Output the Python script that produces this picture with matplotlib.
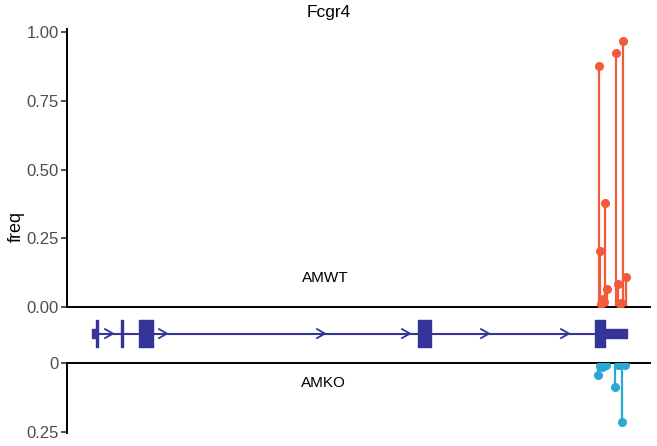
import matplotlib
matplotlib.use('Agg')
import matplotlib.pyplot as plt
import numpy as np

plt.rcParams['font.family'] = ['Liberation Sans', 'DejaVu Sans']

# 颜色
wt_color = '#F15A3A'
ko_color = '#2AA8D4'
gene_color = '#343499'

gene_name = 'Fcgr4'
region = (0, 14575)  # 相对基因组坐标 (bp)

# AMWT 位点频率
wt_pos = [13308, 13325, 13350, 13388, 13413, 13450, 13508, 13725, 13768, 13813, 13850, 13908, 13975]
wt_freq = [0.876, 0.205, 0.012, 0.030, 0.020, 0.377, 0.065, 0.922, 0.082, 0.012, 0.015, 0.968, 0.108]

# AMKO 位点频率
ko_pos = [13283, 13325, 13375, 13425, 13475, 13700, 13763, 13808, 13883, 13950]
ko_freq = [0.044, 0.012, 0.015, 0.012, 0.008, 0.086, 0.006, 0.006, 0.213, 0.006]

# 基因结构: 外显子 (start, end) 及 UTR
cds_exons = [(725, 775), (1360, 1400), (1800, 2150), (8775, 9100), (13200, 13450)]
utr_exons = [(625, 725), (13450, 14000)]
intron_span = (625, 14000)
arrow_pos = [1150, 2500, 6450, 8575, 10550, 12550]

top_ticks = [0.0, 0.25, 0.5, 0.75, 1.0]
top_labels = ['0.00', '0.25', '0.50', '0.75', '1.00']
bot_ticks = [0.0, 0.25]
bot_labels = ['0', '0.25']

W, H = 657, 446
fig = plt.figure(figsize=(W / 100, H / 100), dpi=100)

def px_axes(x0, y0, x1, y1):
    return fig.add_axes([x0 / W, 1 - y1 / H, (x1 - x0) / W, (y1 - y0) / H])

ax_top = px_axes(67, 29.3, 650, 307)
ax_gene = px_axes(67, 307, 650, 363)
ax_bot = px_axes(67, 363, 650, 433)

# 上图: AMWT
ax_top.vlines(wt_pos, 0, wt_freq, color=wt_color, lw=1.6, zorder=2)
ax_top.plot(wt_pos, wt_freq, 'o', color=wt_color, ms=5.5, zorder=3)
ax_top.set_xlim(*region)
ax_top.set_ylim(0, 1.01)
ax_top.set_yticks(top_ticks)
ax_top.set_yticklabels(top_labels)
ax_top.set_xticks([])
ax_top.spines[['top', 'right']].set_visible(False)
ax_top.spines['left'].set_linewidth(1.4)
ax_top.spines['bottom'].set_linewidth(1.4)
ax_top.text(6450, 0.105, 'AMWT', ha='center', va='center', fontsize=11)

# 基因结构
ax_gene.set_xlim(*region)
ax_gene.set_ylim(-1, 1)
ax_gene.axis('off')
yc = 0.05
ax_gene.plot(intron_span, [yc, yc], color=gene_color, lw=1.5, solid_capstyle='butt')
ax_gene.broken_barh([(s, e - s) for s, e in cds_exons], (yc - 0.48, 0.96), color=gene_color)
ax_gene.broken_barh([(s, e - s) for s, e in utr_exons], (yc - 0.16, 0.32), color=gene_color)
for a in arrow_pos:
    ax_gene.plot([a - 200, a, a - 200], [yc + 0.16, yc, yc - 0.16], color=gene_color, lw=1.3)

# 下图: AMKO (反向 y 轴)
ax_bot.vlines(ko_pos, 0, ko_freq, color=ko_color, lw=1.6, zorder=2)
ax_bot.plot(ko_pos, ko_freq, 'o', color=ko_color, ms=5.5, zorder=3)
ax_bot.set_xlim(*region)
ax_bot.set_ylim(0.253, 0)
ax_bot.set_yticks(bot_ticks)
ax_bot.set_yticklabels(bot_labels)
ax_bot.set_xticks([])
ax_bot.spines[['bottom', 'right']].set_visible(False)
ax_bot.spines['left'].set_linewidth(1.4)
ax_bot.spines['top'].set_linewidth(1.4)
ax_bot.text(6400, 0.072, 'AMKO', ha='center', va='center', fontsize=11)

for ax in (ax_top, ax_bot):
    ax.tick_params(axis='y', length=4, width=1.2, labelsize=12, pad=2,
                   color='#333333', labelcolor='#4D4D4D')
    ax.patch.set_alpha(0)

fig.text(328.5 / W, 1 - 13 / H, gene_name, ha='center', va='center', fontsize=12.5)
fig.text(16 / W, 1 - 227 / H, 'freq', ha='center', va='center', rotation=90, fontsize=13)

fig.savefig('out.png', dpi=100)
